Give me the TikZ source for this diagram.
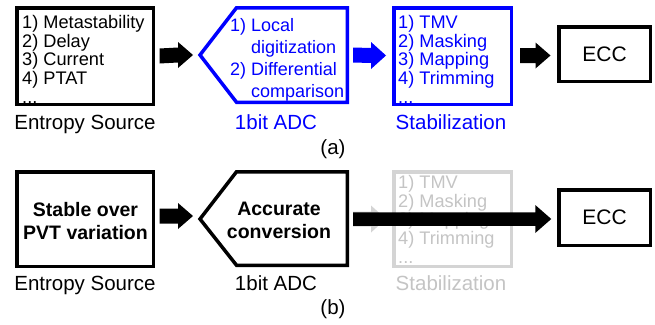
\documentclass[tikz,border=0pt]{standalone}
\usepackage{fontspec}
\setmainfont{Liberation Sans}
\usetikzlibrary{calc}
\definecolor{pblue}{RGB}{0,0,255}
\definecolor{gbox}{RGB}{212,212,212}
\definecolor{gtext}{RGB}{196,196,196}
\newcommand\blockarr[6]{\fill[#1] ($(#2)+(0,-#4)$) -- ($(#3)+(-#6,-#4)$) -- ($(#3)+(-#6,-#5)$) -- (#3) -- ($(#3)+(-#6,#5)$) -- ($(#3)+(-#6,#4)$) -- ($(#2)+(0,#4)$) -- cycle;}
\begin{document}
\begin{tikzpicture}[x=1pt,y=-1pt,
  bx/.style={draw,line width=3.5pt,inner sep=0pt},
  listtxt/.style={inner sep=0pt,align=left,anchor=north west,font=\fontsize{18.2}{18.8}\selectfont},
  adctxt/.style={inner sep=0pt,align=left,anchor=north west,font=\fontsize{18}{22}\selectfont},
  lbl/.style={inner sep=0pt,anchor=base,font=\fontsize{20.5}{24}\selectfont},
  boldtxt/.style={inner sep=0pt,align=center,font=\bfseries\fontsize{19.5}{23}\selectfont},
  ecctxt/.style={font=\fontsize{21}{24}\selectfont}]
\useasboundingbox (0,0) rectangle (655,324);
% ---------------- (a) ----------------
\node[bx,minimum width=136.5pt,minimum height=96.5pt] (es1) at (85,56) {};
\node[listtxt] (es1t) at (22,15) {1) Metastability\\2) Delay\\3) Current\\4) PTAT\\...};
\node[lbl] (es1l) at (85,129) {Entropy Source};
\coordinate (adc1) at (200,55);
\coordinate (adc1r) at (347.25,55);
\draw[pblue,line width=3.5pt,line join=miter] (adc1) -- (236.5,7.75) -- (347.25,7.75) -- (347.25,102.25) -- (236.5,102.25) -- cycle;
\node[adctxt,pblue] (adc1t) at (230,18) {1) Local\\\phantom{1) }digitization\\2) Differential\\\phantom{2) }comparison};
\node[lbl,pblue] (adc1l) at (276,129) {1bit ADC};
\node[bx,draw=pblue,minimum width=117.5pt,minimum height=96.5pt] (st1) at (452.5,56) {};
\node[listtxt,pblue] (st1t) at (398,15) {1) TMV\\2) Masking\\3) Mapping\\4) Trimming\\...};
\node[lbl,pblue] (st1l) at (451,129) {Stabilization};
\node[bx,ecctxt,minimum width=91.5pt,minimum height=54.5pt] (ecc1) at (604.5,54) {ECC};
\node[lbl] (capa) at (333,154) {(a)};
\coordinate (a1s) at ($(es1.east)+(4.5,0)$);
\coordinate (a1e) at ($(adc1)+(-7,0)$);
\coordinate (a2s) at ($(adc1r)+(5.75,0)$);
\coordinate (a2e) at ($(st1.west)+(-6,-0.5)$);
\coordinate (a3s) at ($(st1.east)+(7,-0.5)$);
\coordinate (a3e) at ($(ecc1.west)+(-6.5,1.5)$);
\blockarr{black}{a1s}{a1e}{7.5}{13}{15}
\blockarr{pblue}{a2s}{a2e}{7.5}{13.5}{15}
\blockarr{black}{a3s}{a3e}{7.5}{13}{15}
% ---------------- (b) ----------------
\node[bx,minimum width=136.5pt,minimum height=94.5pt] (es2) at (85,219) {};
\node[boldtxt] (es2t) at (85.5,221.5) {Stable over\\PVT variation};
\node[lbl] (es2l) at (85,290) {Entropy Source};
\coordinate (adc2) at (200,219);
\coordinate (adc2r) at (347.25,219);
\draw[line width=3.5pt,line join=miter] (adc2) -- (236.5,171.75) -- (347.25,171.75) -- (347.25,265.25) -- (236.5,265.25) -- cycle;
\node[boldtxt] (adc2t) at (279,220) {Accurate\\conversion};
\node[lbl] (adc2l) at (276,290) {1bit ADC};
\node[bx,draw=gbox,minimum width=117.5pt,minimum height=94.5pt] (st2) at (452.5,219) {};
\node[listtxt,gtext] (st2t) at (398,175) {1) TMV\\2) Masking\\3) Mapping\\4) Trimming\\...};
\node[lbl,gtext] (st2l) at (451,290) {Stabilization};
\node[bx,ecctxt,minimum width=91.5pt,minimum height=55.5pt] (ecc2) at (604.5,217.5) {ECC};
\node[lbl] (capb) at (333,314) {(b)};
\coordinate (b1s) at ($(es2.east)+(4.5,-3)$);
\coordinate (b1e) at ($(adc2)+(-7,-3)$);
\coordinate (b2s) at ($(adc2r)+(5.75,0)$);
\coordinate (b2e) at ($(st2.west)+(-6,0)$);
\coordinate (b3e) at ($(ecc2.west)+(-5.75,1.5)$);
\blockarr{gbox}{b2s}{b2e}{7.5}{13.5}{15}
\blockarr{black}{b1s}{b1e}{7.5}{13}{15}
\blockarr{black}{b2s}{b3e}{6.75}{14}{16}
\end{tikzpicture}
\end{document}
